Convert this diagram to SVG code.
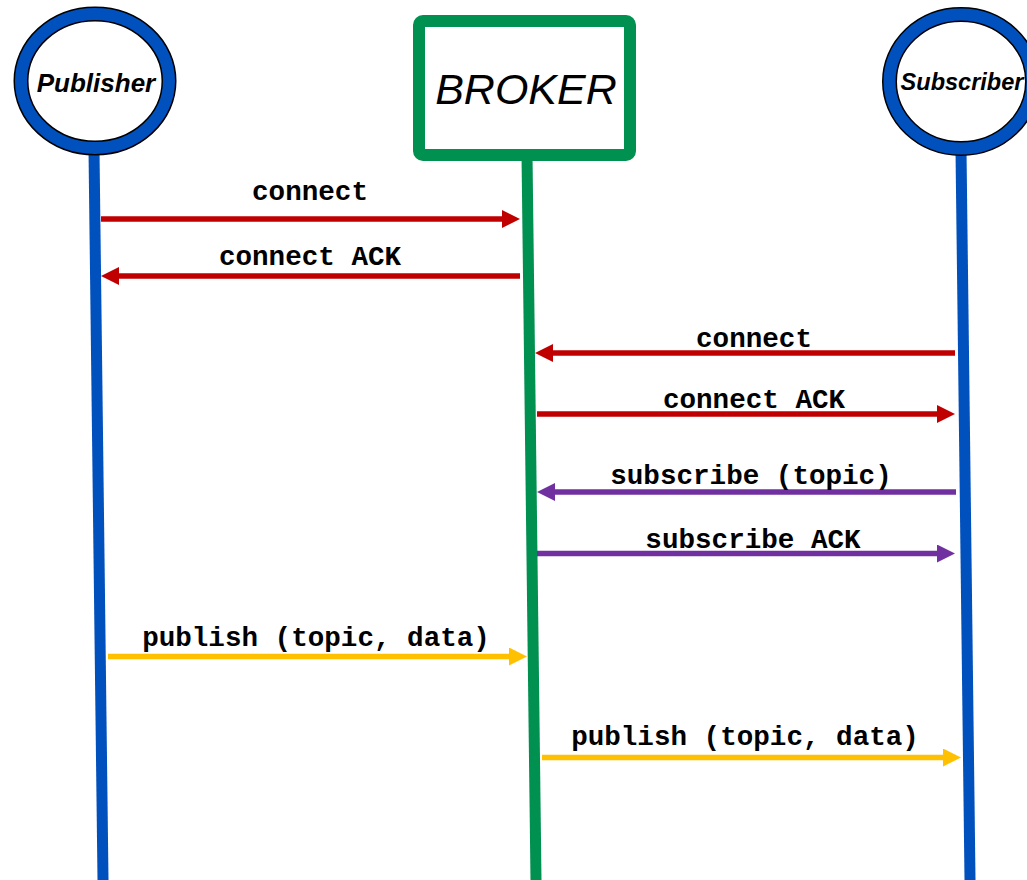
<svg xmlns="http://www.w3.org/2000/svg" width="1027" height="880" viewBox="0 0 1027 880">
<style>
.life{stroke-width:11;fill:none}
.blue{stroke:#0050BE}
.green{stroke:#00904F}
.ringbk{fill:#fff;stroke:#000;stroke-width:15}
.ring{fill:none;stroke:#0050BE;stroke-width:12}
.actor{font-family:"Liberation Sans",Arial,sans-serif;font-weight:bold;font-style:italic;fill:#000;text-anchor:middle}
.msg{font-family:"Liberation Mono","Courier New",monospace;font-weight:bold;font-size:27.6px;fill:#000;text-anchor:middle}
.a{stroke-width:5.5;fill:none}
.red{stroke:#C00000}
.pur{stroke:#7030A0}
.yel{stroke:#FFC000}
</style>
<defs>
<marker id="hr" markerUnits="userSpaceOnUse" markerWidth="18" markerHeight="18" refX="4" refY="9" orient="auto" viewBox="0 0 18 18"><path d="M0,0 L18,9 L0,18 z" fill="#C00000"/></marker>
<marker id="hp" markerUnits="userSpaceOnUse" markerWidth="18" markerHeight="18" refX="4" refY="9" orient="auto" viewBox="0 0 18 18"><path d="M0,0 L18,9 L0,18 z" fill="#7030A0"/></marker>
<marker id="hy" markerUnits="userSpaceOnUse" markerWidth="18" markerHeight="18" refX="4" refY="9" orient="auto" viewBox="0 0 18 18"><path d="M0,0 L18,9 L0,18 z" fill="#FFC000"/></marker>
</defs>
<rect width="1027" height="880" fill="#fff"/>
<g id="publisher">
<line class="life blue" x1="94" y1="150" x2="103" y2="880"/>
<ellipse class="ringbk" cx="95" cy="81" rx="74" ry="67"/>
<ellipse class="ring" cx="95" cy="81" rx="74" ry="67"/>
<text class="actor" x="96" y="92" font-size="26">Publisher</text>
</g>
<g id="broker">
<line class="life green" x1="527" y1="155" x2="536" y2="880"/>
<rect x="419" y="21" width="211" height="134" rx="4" fill="#fff" stroke="#00904F" stroke-width="12"/>
<text x="526" y="104" font-family="Liberation Sans,Arial,sans-serif" font-style="italic" font-size="43" text-anchor="middle" fill="#000">BROKER</text>
</g>
<g id="subscriber">
<line class="life blue" x1="961" y1="150" x2="970" y2="880"/>
<ellipse class="ringbk" cx="961" cy="81.5" rx="71.5" ry="67"/>
<ellipse class="ring" cx="961" cy="81.5" rx="71.5" ry="67"/>
<text class="actor" x="962" y="90" font-size="23.5">Subscriber</text>
</g>
<g id="connectors">
<line class="a red" x1="101" y1="219" x2="506" y2="219" marker-end="url(#hr)"/>
<line class="a red" x1="520" y1="276" x2="115" y2="276" marker-end="url(#hr)"/>
<line class="a red" x1="955" y1="353" x2="549" y2="353" marker-end="url(#hr)"/>
<line class="a red" x1="537" y1="414" x2="941" y2="414" marker-end="url(#hr)"/>
<line class="a pur" x1="956" y1="492" x2="551" y2="492" marker-end="url(#hp)"/>
<line class="a pur" x1="537" y1="553.5" x2="941" y2="553.5" marker-end="url(#hp)"/>
<line class="a yel" x1="108" y1="656.5" x2="513" y2="656.5" marker-end="url(#hy)"/>
<line class="a yel" x1="542" y1="757.5" x2="947" y2="757.5" marker-end="url(#hy)"/>
</g>
<g id="labels">
<text class="msg" x="310" y="200">connect</text>
<text class="msg" x="310" y="265">connect ACK</text>
<text class="msg" x="754" y="347">connect</text>
<text class="msg" x="754" y="408">connect ACK</text>
<text class="msg" x="751" y="484">subscribe (topic)</text>
<text class="msg" x="753" y="548">subscribe ACK</text>
<text class="msg" x="316" y="646">publish (topic, data)</text>
<text class="msg" x="745" y="745">publish (topic, data)</text>
</g>
</svg>
